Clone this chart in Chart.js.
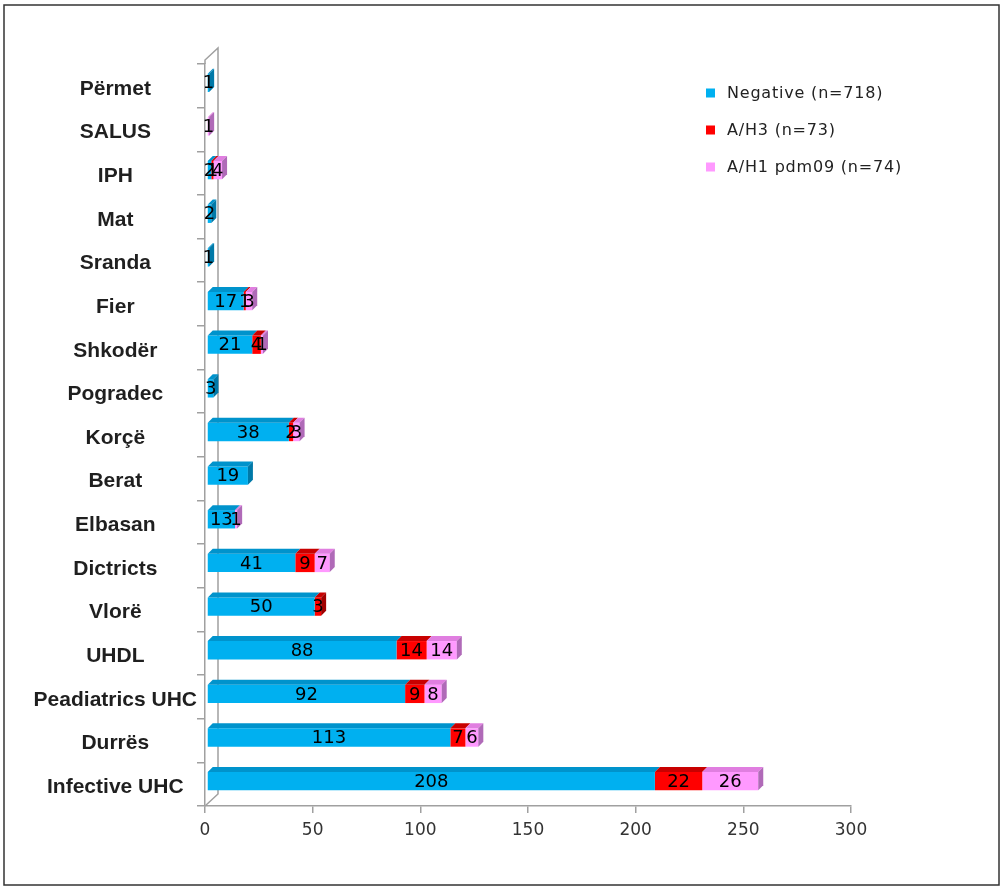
<!DOCTYPE html>
<html>
<head>
<meta charset="utf-8">
<title>Influenza results by site</title>
<script src="https://cdn.jsdelivr.net/npm/chart.js@4/dist/chart.umd.min.js"></script>
<style>
  html, body { margin: 0; padding: 0; background: #fff; }
  canvas { display: block; background: #fff; }
</style>
</head>
<body>
<canvas id="chart" width="1003" height="889"></canvas>
<script>
// Sites, listed top to bottom
const categories = ['Përmet', 'SALUS', 'IPH', 'Mat', 'Sranda', 'Fier', 'Shkodër', 'Pogradec', 'Korçë',
  'Berat', 'Elbasan', 'Dictricts', 'Vlorë', 'UHDL', 'Peadiatrics UHC', 'Durrës', 'Infective UHC'];

// Sample counts per site
const negative = [1, 0, 2, 2, 1, 17, 21, 3, 38, 19, 13, 41, 50, 88, 92, 113, 208];
const aH3      = [0, 0, 1, 0, 0, 1, 4, 0, 2, 0, 0, 9, 3, 14, 9, 7, 22];
const aH1pdm09 = [0, 1, 4, 0, 0, 3, 1, 0, 3, 0, 1, 7, 0, 14, 8, 6, 26];

const seriesNames = ['Negative (n=718)', 'A/H3 (n=73)', 'A/H1 pdm09 (n=74)'];
const xTickValues = [0, 50, 100, 150, 200, 250, 300];

// Face colours: front, top, side
const frontColors = ['#00B0F0', '#FF0000', '#FF99FF'];
const topColors   = ['#0093CC', '#C80000', '#E07EE0'];
const sideColors  = ['#0079A8', '#A00000', '#B06AB8'];

const DEPTH = 5;

// Back wall of the 3D frame behind the bars
const wallPlugin = {
  id: 'wall',
  beforeDatasetsDraw(chart) {
    const { ctx, chartArea: a } = chart;
    const L = a.left, T = a.top, B = a.bottom;
    ctx.save();
    ctx.strokeStyle = '#A0A0A0';
    ctx.lineWidth = 1.5;
    ctx.beginPath();
    ctx.moveTo(L, T);
    ctx.lineTo(L, T - 4);
    ctx.lineTo(L + 13, T - 16);
    ctx.lineTo(L + 13, B - 12);
    ctx.lineTo(L, B);
    ctx.stroke();
    ctx.restore();
  }
};

// Extruded look for the stacked bars plus value labels
const bar3dPlugin = {
  id: 'bar3d',
  beforeDatasetsDraw(chart) {
    chart.ctx.save();
    chart.ctx.translate(2, -3);
  },
  afterDatasetsDraw(chart) {
    const ctx = chart.ctx;
    const sets = chart.data.datasets;
    const metas = sets.map((_, i) => chart.getDatasetMeta(i));

    // top faces
    metas.forEach((m, di) => {
      m.data.forEach((el, j) => {
        if (!sets[di].data[j]) return;
        const { x, y, base, height } = el.getProps(['x', 'y', 'base', 'height'], true);
        const top = y - height / 2;
        ctx.fillStyle = topColors[di];
        ctx.beginPath();
        ctx.moveTo(base, top);
        ctx.lineTo(x, top);
        ctx.lineTo(x + DEPTH, top - DEPTH);
        ctx.lineTo(base + DEPTH, top - DEPTH);
        ctx.closePath();
        ctx.fill();
      });
    });

    // side face on the outer end of each stack
    categories.forEach((_, j) => {
      let last = -1;
      sets.forEach((s, di) => { if (s.data[j]) last = di; });
      if (last < 0) return;
      const { x, y, height } = metas[last].data[j].getProps(['x', 'y', 'height'], true);
      const top = y - height / 2, bottom = y + height / 2;
      ctx.fillStyle = sideColors[last];
      ctx.beginPath();
      ctx.moveTo(x, top);
      ctx.lineTo(x + DEPTH, top - DEPTH);
      ctx.lineTo(x + DEPTH, bottom - DEPTH);
      ctx.lineTo(x, bottom);
      ctx.closePath();
      ctx.fill();
    });

    // value labels
    ctx.font = '18px "DejaVu Sans"';
    ctx.fillStyle = '#000';
    ctx.textAlign = 'center';
    ctx.textBaseline = 'middle';
    metas.forEach((m, di) => {
      m.data.forEach((el, j) => {
        const v = sets[di].data[j];
        if (!v) return;
        const { x, y, base } = el.getProps(['x', 'y', 'base'], true);
        ctx.fillText(String(v), (base + x) / 2, y + 1);
      });
    });
    ctx.restore();
  }
};

// Legend at the upper right, plus the outer frame
const legendPlugin = {
  id: 'sideLegend',
  afterDraw(chart) {
    const ctx = chart.ctx;
    ctx.save();
    const rows = [93, 130, 167];
    ctx.font = '16px "DejaVu Sans"';
    if ('letterSpacing' in ctx) ctx.letterSpacing = '0.8px';
    ctx.textAlign = 'left';
    ctx.textBaseline = 'middle';
    chart.data.datasets.forEach((ds, i) => {
      ctx.fillStyle = ds.backgroundColor;
      ctx.fillRect(706, rows[i] - 4.5, 9, 9);
      ctx.fillStyle = '#222';
      ctx.fillText(ds.label, 727, rows[i] + 1);
    });
    if ('letterSpacing' in ctx) ctx.letterSpacing = '0px';
    ctx.strokeStyle = '#333';
    ctx.lineWidth = 1.5;
    ctx.strokeRect(4, 5, 995, 880);
    ctx.restore();
  }
};

new Chart(document.getElementById('chart'), {
  type: 'bar',
  data: {
    labels: categories,
    datasets: [
      { label: seriesNames[0], data: negative, backgroundColor: frontColors[0] },
      { label: seriesNames[1], data: aH3, backgroundColor: frontColors[1] },
      { label: seriesNames[2], data: aH1pdm09, backgroundColor: frontColors[2] }
    ]
  },
  options: {
    indexAxis: 'y',
    responsive: false,
    animation: false,
    devicePixelRatio: 1,
    categoryPercentage: 1,
    barPercentage: 0.42,
    layout: { padding: { top: 64, right: 152, bottom: 40, left: 0 } },
    plugins: { legend: { display: false }, tooltip: { enabled: false } },
    scales: {
      x: {
        stacked: true,
        min: xTickValues[0],
        max: xTickValues[xTickValues.length - 1],
        afterFit(s) { s.height = 43; },
        afterBuildTicks(s) { s.ticks = xTickValues.map(v => ({ value: v })); },
        grid: { drawOnChartArea: false, drawTicks: true, tickLength: 7, color: '#A0A0A0', lineWidth: 1.5 },
        border: { display: true, color: '#A0A0A0', width: 1.5 },
        ticks: { padding: 7, color: '#333', font: { family: 'DejaVu Sans', size: 17 } }
      },
      y: {
        stacked: true,
        afterFit(s) { s.width = 205; },
        grid: { drawOnChartArea: false, drawTicks: true, tickLength: 8, color: '#A0A0A0', lineWidth: 1.5, offset: true },
        border: { display: true, color: '#A0A0A0', width: 1.5 },
        ticks: { padding: 0, crossAlign: 'center', labelOffset: 3, color: '#1f1f1f',
                 font: { family: 'Liberation Sans', size: 21, weight: 'bold' } }
      }
    }
  },
  plugins: [wallPlugin, bar3dPlugin, legendPlugin]
});
</script>
</body>
</html>
